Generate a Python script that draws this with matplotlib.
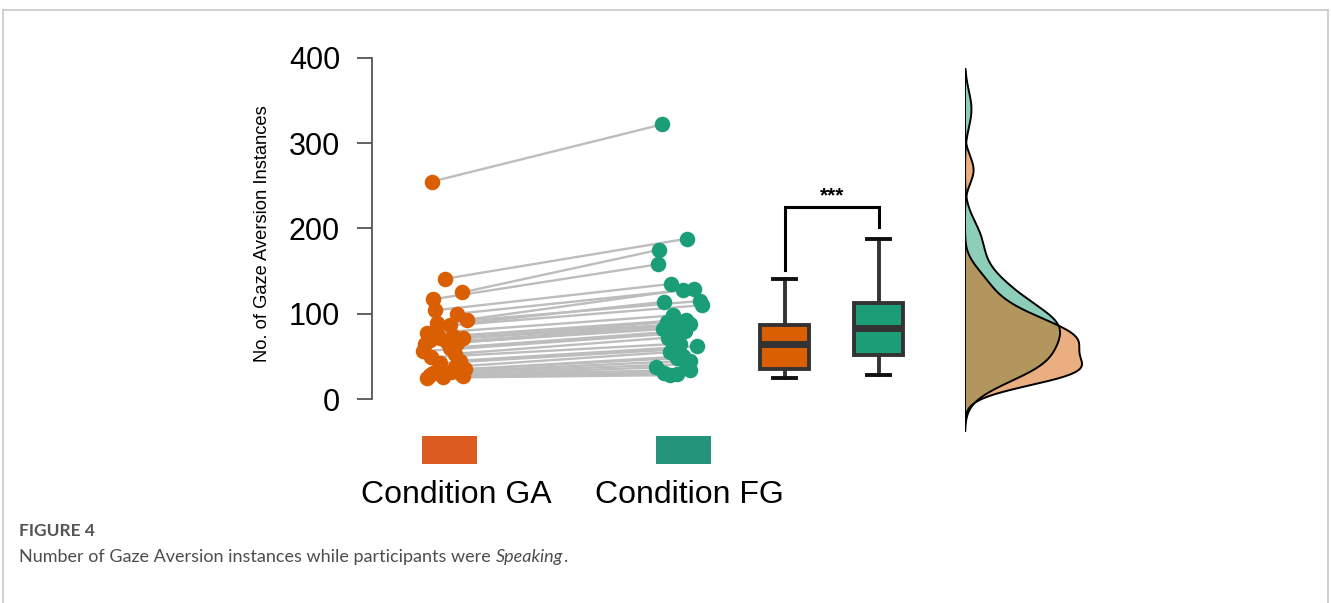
import numpy as np
import matplotlib
matplotlib.use("Agg")
import matplotlib.pyplot as plt
from matplotlib.patches import Rectangle
from matplotlib.lines import Line2D

plt.rcParams['font.family'] = ['Liberation Sans', 'DejaVu Sans']

# data (paired, one value per participant)
conditions = ['Condition GA', 'Condition FG']
ga_counts = [255, 141, 125, 117, 104, 100, 93, 89, 87, 85, 77, 74, 72, 71, 69, 67, 66,
             64, 60, 56, 53, 49, 45, 42, 38, 35, 33, 32, 30, 29, 28, 27, 26, 25]
fg_counts = [322, 188, 175, 158, 135, 129, 128, 115, 114, 110, 98, 93, 90, 88, 87, 86, 84,
             82, 80, 77, 72, 65, 62, 58, 55, 50, 48, 45, 41, 37, 34, 31, 29, 28]
y_ticks = [0, 100, 200, 300, 400]
signif = '***'

# horizontal scatter of the dots (in pixels)
ga_jitter = [-13, 0, 17, -12, -10, 12, 22, -8, 5, -8, -18, 8, 18, -5, -15, 2, 12,
             -20, 5, -22, 10, -14, 15, -5, 10, 20, -8, 6, -12, 16, -15, 18, -2, -18]
fg_jitter = [-16, 9, -19, -20, -7, 16, 5, 22, -14, 24, -5, 8, -11, 12, -2, 2, -8,
             -15, 7, -3, -10, 2, 19, -6, -8, 5, -1, 12, 8, -22, 12, -14, -1, -8]

c_ga, c_fg = '#D95F02', '#1B9E77'
px = 233.0  # pixels per x unit

W, H = 1331, 603
fig = plt.figure(figsize=(W / 100, H / 100), dpi=100)

# main axes
ax = fig.add_axes([372 / W, 1 - 437.4 / H, 558 / W, 383.7 / H])
ax.set_xlim(0.687, 0.687 + 558 / px)
ax.set_ylim(-45, 405)

ga = np.array(ga_counts, float)
fg = np.array(fg_counts, float)
x_ga = 1 + np.array(ga_jitter) / px
x_fg = 2 + np.array(fg_jitter) / px

for i in range(len(ga)):
    ax.plot([x_ga[i], x_fg[i]], [ga[i], fg[i]], color='#BDBDBD', lw=1.7, zorder=1)
ax.scatter(x_ga, ga, s=125, color=c_ga, zorder=3, linewidths=0)
ax.scatter(x_fg, fg, s=125, color=c_fg, zorder=3, linewidths=0)

# box plots
bx1, bx2 = 1 + 340 / px, 1 + 434 / px
bp = ax.boxplot([ga, fg], positions=[bx1, bx2], widths=49 / px,
                showfliers=False, patch_artist=True, capwidths=23 / px,
                boxprops=dict(edgecolor='#333333', linewidth=2.8),
                whiskerprops=dict(color='#333333', linewidth=2.8),
                capprops=dict(color='#111111', linewidth=2.8),
                medianprops=dict(color='#333333', linewidth=5))
for patch, c in zip(bp['boxes'], [c_ga, c_fg]):
    patch.set_facecolor(c)

# significance bracket
ax.plot([bx1, bx1, bx2, bx2], [151, 225, 225, 202], color='black', lw=2.2,
        solid_joinstyle='miter')
ax.text((bx1 + bx2) / 2, 238, signif, ha='center', va='center', fontsize=15,
        fontweight='bold')

# axis styling
for s in ['top', 'right', 'bottom']:
    ax.spines[s].set_visible(False)
ax.spines['left'].set_bounds(0, 400)
ax.spines['left'].set_color('#555555')
ax.spines['left'].set_linewidth(1.3)
ax.set_yticks(y_ticks)
ax.tick_params(axis='y', length=11, width=1.3, color='#555555', labelsize=22, pad=12)
ax.set_xticks([])
ax.text(-0.197, 0.531, 'No. of Gaze Aversion Instances', transform=ax.transAxes,
        rotation=90, ha='center', va='center', fontsize=13.2)

# legend swatches and labels
for xc, c, lab, dx in [(1 + 4.5 / px, '#DC5B20', conditions[0], 11),
                       (2 + 5.5 / px, '#24957A', conditions[1], 10)]:
    ax.add_patch(Rectangle((xc - 27.5 / px, -76), 55 / px, 32.6, facecolor=c,
                           edgecolor='none', clip_on=False))
    ax.text(xc + (dx - 4.5) / px, -112, lab, ha='center', va='center', fontsize=23,
            clip_on=False)

# density panel
ax2 = fig.add_axes([965 / W, 1 - 440 / H, 135 / W, 380 / H])
ax2.set_ylim(-43, 376.4)
ax2.axis('off')


def kde(vals, grid, bw):
    z = (grid[:, None] - vals[None, :]) / bw
    return np.exp(-0.5 * z ** 2).sum(axis=1) / (len(vals) * bw * np.sqrt(2 * np.pi))


grid = np.linspace(-33, 366, 600)
d_ga = kde(ga, grid, 15.0)
d_fg = kde(fg, grid, 20.0)
ax2.set_xlim(0, d_ga.max() * 135 / 117)
ax2.fill_betweenx(grid, 0, d_fg, color=c_fg, alpha=0.5, lw=0)
ax2.plot(d_fg, grid, color='black', lw=1.4)
ax2.fill_betweenx(grid, 0, d_ga, color=c_ga, alpha=0.5, lw=0)
ax2.plot(d_ga, grid, color='black', lw=1.4)
ax2.plot([0, 0], [grid[0], grid[-1]], color='black', lw=1.4)

# caption and frame
cap_font = ['Lato', 'DejaVu Sans']
fig.text(19 / W, 1 - 531 / H, 'FIGURE 4', fontsize=12.5, color='#555555',
         fontweight='bold', family=cap_font, va='center')
t1 = fig.text(19 / W, 1 - 557 / H, 'Number of Gaze Aversion instances while participants were ',
              fontsize=13, color='#4d4d4d', family=cap_font, va='center')
r = fig.canvas.get_renderer()
bb = t1.get_window_extent(r)
t2 = fig.text(bb.x1 / W, 1 - 557 / H, 'Speaking', fontsize=13, color='#4d4d4d',
              style='italic', family=cap_font, va='center')
bb2 = t2.get_window_extent(r)
fig.text((bb2.x1 + 1) / W, 1 - 557 / H, '.', fontsize=13, color='#4d4d4d',
         family=cap_font, va='center')

fc = '#C8C8C8'
fig.add_artist(Line2D([3 / W, 1328 / W], [1 - 10 / H, 1 - 10 / H], color=fc, lw=1.2))
fig.add_artist(Line2D([3 / W, 3 / W], [0, 1 - 10 / H], color=fc, lw=1.2))
fig.add_artist(Line2D([1328 / W, 1328 / W], [0, 1 - 10 / H], color=fc, lw=1.2))

fig.savefig('out.png', dpi=100)
